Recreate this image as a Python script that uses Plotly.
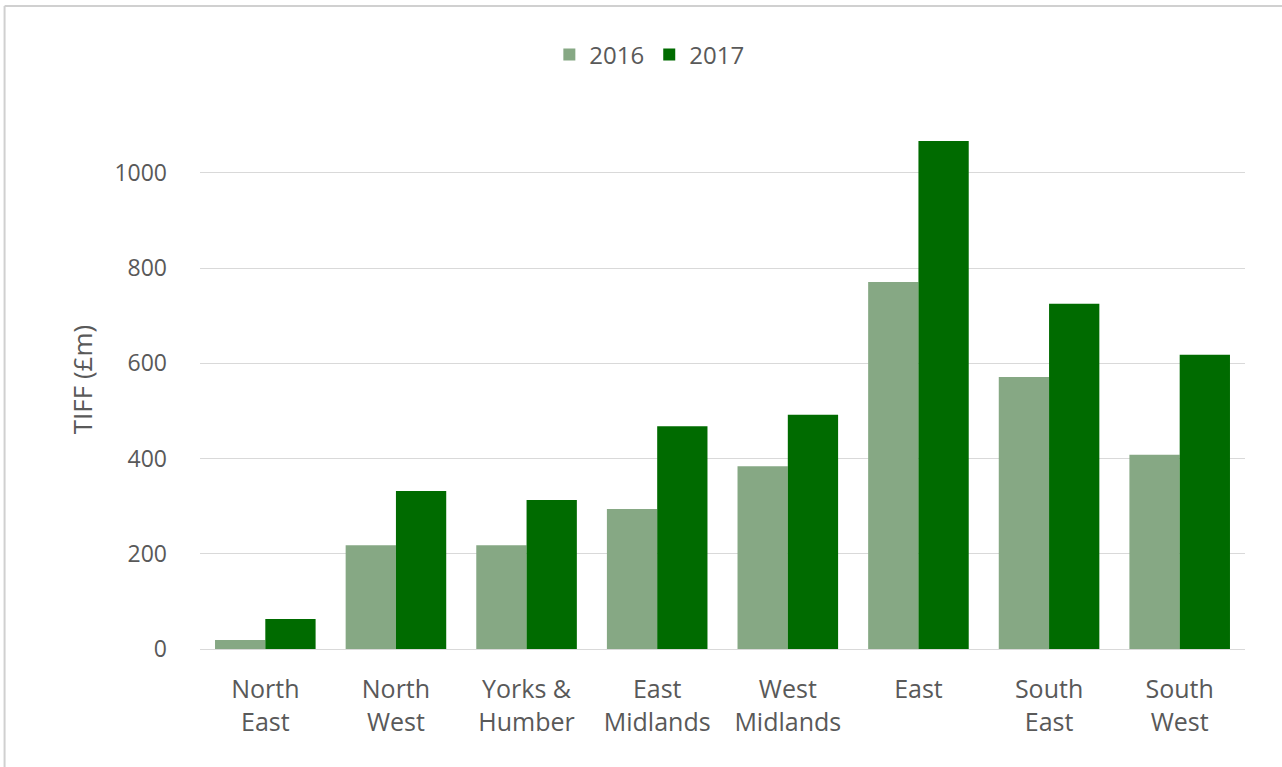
import plotly.graph_objects as go

regions = ["North<br>East", "North<br>West", "Yorks &<br>Humber", "East<br>Midlands",
           "West<br>Midlands", "East", "South<br>East", "South<br>West"]
values_2016 = [19, 218, 218, 294, 384, 771, 571, 408]
values_2017 = [63, 332, 313, 468, 492, 1067, 725, 618]
y_ticks = [0, 200, 400, 600, 800, 1000]

FONT = "'Open Sans', sans-serif"
GREY = "#595959"

fig = go.Figure()
fig.add_trace(go.Bar(name="2016", x=regions, y=values_2016, marker_color="#86a884",
                     marker_line_width=0))
fig.add_trace(go.Bar(name="2017", x=regions, y=values_2017, marker_color="#006b00",
                     marker_line_width=0))

fig.update_layout(
    width=1282, height=767,
    margin=dict(l=200, r=37, t=110, b=118, autoexpand=False),
    paper_bgcolor="white", plot_bgcolor="white",
    barmode="group", bargap=0.23, bargroupgap=0,
    font=dict(family=FONT, color=GREY, size=23),
    legend=dict(orientation="h", x=0.43, xanchor="center", yref="container",
                y=1 - 55 / 767, yanchor="middle",
                font=dict(size=24, color=GREY), itemwidth=30, traceorder="normal"),
    xaxis=dict(showgrid=False, showline=True, linecolor="#d9d9d9", linewidth=1,
               ticks="", tickfont=dict(size=25, color=GREY), ticklabelstandoff=18),
    yaxis=dict(range=[0, 1132], tickvals=y_ticks, showgrid=True, gridcolor="#d9d9d9",
               gridwidth=1, zeroline=False, showline=False, ticks="",
               tickfont=dict(size=23, color=GREY), ticklabelstandoff=32,
               title=dict(text="TIFF (£m)", font=dict(size=26, color=GREY), standoff=14)),
    shapes=[
        dict(type="line", xref="paper", yref="paper", x0=-0.187, x1=1.04,
             y0=(649 - 6) / 539, y1=(649 - 6) / 539,
             line=dict(color="#d0d0d0", width=2)),
        dict(type="line", xref="paper", yref="paper", x0=-0.187, x1=-0.187,
             y0=-0.22, y1=(649 - 6) / 539,
             line=dict(color="#d0d0d0", width=2)),
    ],
)

fig.write_html("out.html")
